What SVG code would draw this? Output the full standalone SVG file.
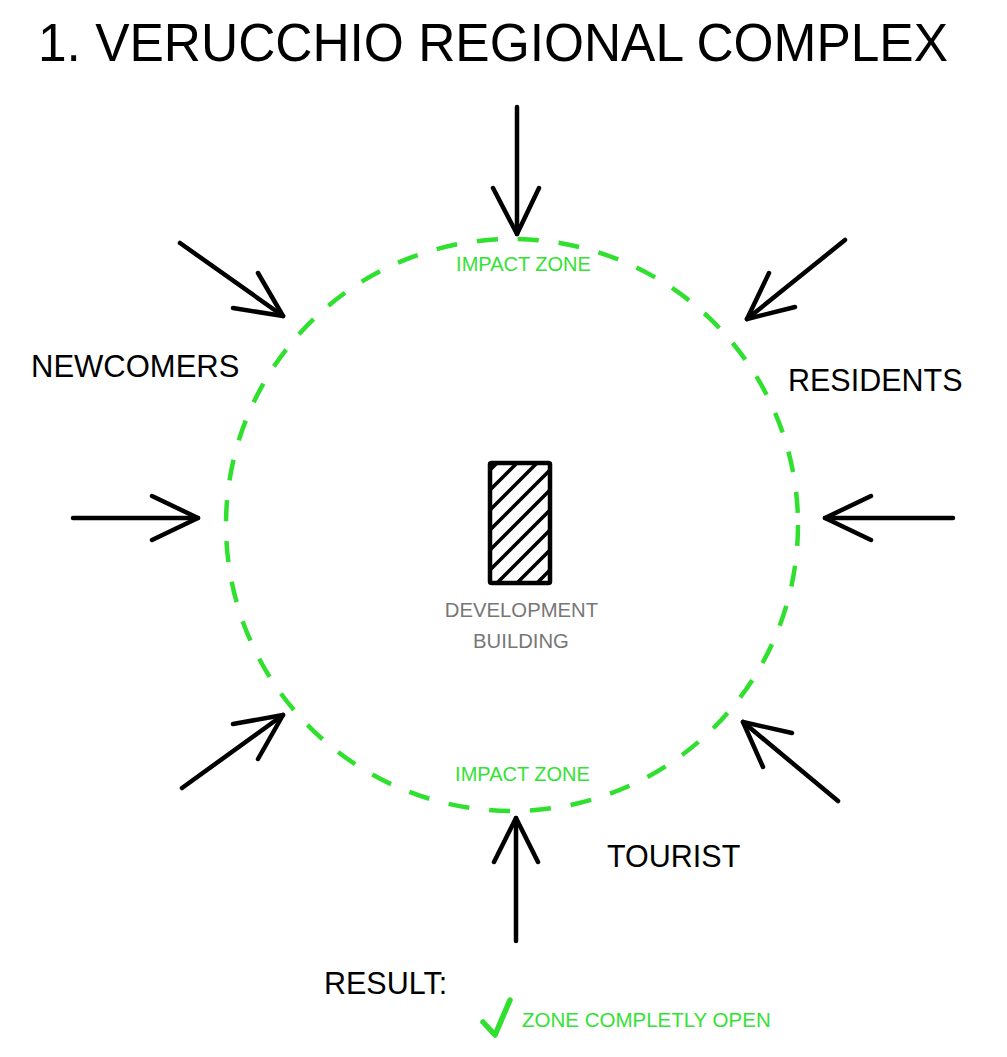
<svg xmlns="http://www.w3.org/2000/svg" width="1007" height="1057" viewBox="0 0 1007 1057">
<style>
  .arrow { fill: none; stroke: #000; stroke-width: 4.5; stroke-linecap: round; stroke-linejoin: round; }
  .label { font-family: "Liberation Sans", Arial, sans-serif; font-size: 30.5px; fill: #000; }
  .zone { font-family: "Liberation Sans", Arial, sans-serif; font-size: 20px; fill: #33e233; }
  .grey { font-family: "Liberation Sans", Arial, sans-serif; font-size: 20.3px; fill: #777; }
  .hatch { stroke: #000; stroke-width: 3.5; }
</style>
<defs>
  <clipPath id="bclip"><rect x="490" y="463" width="60" height="120"/></clipPath>
</defs>
<rect x="0" y="0" width="1007" height="1057" fill="#fff"/>

<g id="title">
  <text x="493" y="61" text-anchor="middle" font-family="'Liberation Sans', Arial, sans-serif" font-size="53" textLength="910" lengthAdjust="spacingAndGlyphs">1. VERUCCHIO REGIONAL COMPLEX</text>
</g>

<g id="impact-zone">
  <circle cx="512" cy="525" r="286" fill="none" stroke="#2fe02f" stroke-width="4.5" stroke-dasharray="21 20"/>
  <text class="zone" x="523.5" y="271" text-anchor="middle">IMPACT ZONE</text>
  <text class="zone" x="522.5" y="781" text-anchor="middle">IMPACT ZONE</text>
</g>

<g id="building">
  <g clip-path="url(#bclip)" class="hatch">
    <line x1="497" y1="463" x2="377" y2="583"/>
    <line x1="517" y1="463" x2="397" y2="583"/>
    <line x1="537" y1="463" x2="417" y2="583"/>
    <line x1="557" y1="463" x2="437" y2="583"/>
    <line x1="577" y1="463" x2="457" y2="583"/>
    <line x1="597" y1="463" x2="477" y2="583"/>
    <line x1="617" y1="463" x2="497" y2="583"/>
    <line x1="637" y1="463" x2="517" y2="583"/>
    <line x1="657" y1="463" x2="537" y2="583"/>
  </g>
  <rect x="490" y="463" width="60" height="120" fill="none" stroke="#000" stroke-width="4.5" rx="1.5"/>
  <text class="grey" x="521.5" y="617" text-anchor="middle">DEVELOPMENT</text>
  <text class="grey" x="521" y="648" text-anchor="middle">BUILDING</text>
</g>

<g id="newcomers"><text class="label" x="31" y="377" style="font-size:31px">NEWCOMERS</text></g>
<g id="residents"><text class="label" x="788" y="391">RESIDENTS</text></g>
<g id="tourist"><text class="label" x="607" y="867">TOURIST</text></g>

<g id="result">
  <text class="label" x="324" y="994">RESULT:</text>
  <polyline points="483,1022 495,1035 510,1000" fill="none" stroke="#2fe02f" stroke-width="5.5" stroke-linecap="round" stroke-linejoin="round"/>
  <text class="zone" x="522" y="1027" style="font-size:20.5px">ZONE COMPLETLY OPEN</text>
</g>

<g id="connectors">
  <!-- top -->
  <line class="arrow" x1="517" y1="107" x2="517" y2="234"/>
  <polyline class="arrow" points="493,188 517,234 539,188"/>
  <!-- bottom -->
  <line class="arrow" x1="516" y1="941" x2="516" y2="818"/>
  <polyline class="arrow" points="494,862 516,818 538,862"/>
  <!-- top-left -->
  <line class="arrow" x1="180" y1="243" x2="283" y2="316"/>
  <polyline class="arrow" points="258,273 283,316 233,308"/>
  <!-- left -->
  <line class="arrow" x1="73" y1="518" x2="198" y2="518"/>
  <polyline class="arrow" points="152,496 198,518 152,540"/>
  <!-- bottom-left -->
  <line class="arrow" x1="182" y1="788" x2="283" y2="715"/>
  <polyline class="arrow" points="233,724 283,715 258,759"/>
  <!-- top-right -->
  <line class="arrow" x1="845" y1="240" x2="747" y2="319"/>
  <polyline class="arrow" points="769,273 747,319 795,307"/>
  <!-- right -->
  <line class="arrow" x1="953" y1="518" x2="825" y2="518"/>
  <polyline class="arrow" points="871,496 825,518 871,540"/>
  <!-- bottom-right -->
  <line class="arrow" x1="838" y1="801" x2="743" y2="722"/>
  <polyline class="arrow" points="792,733 743,722 763,767"/>
</g>
</svg>
